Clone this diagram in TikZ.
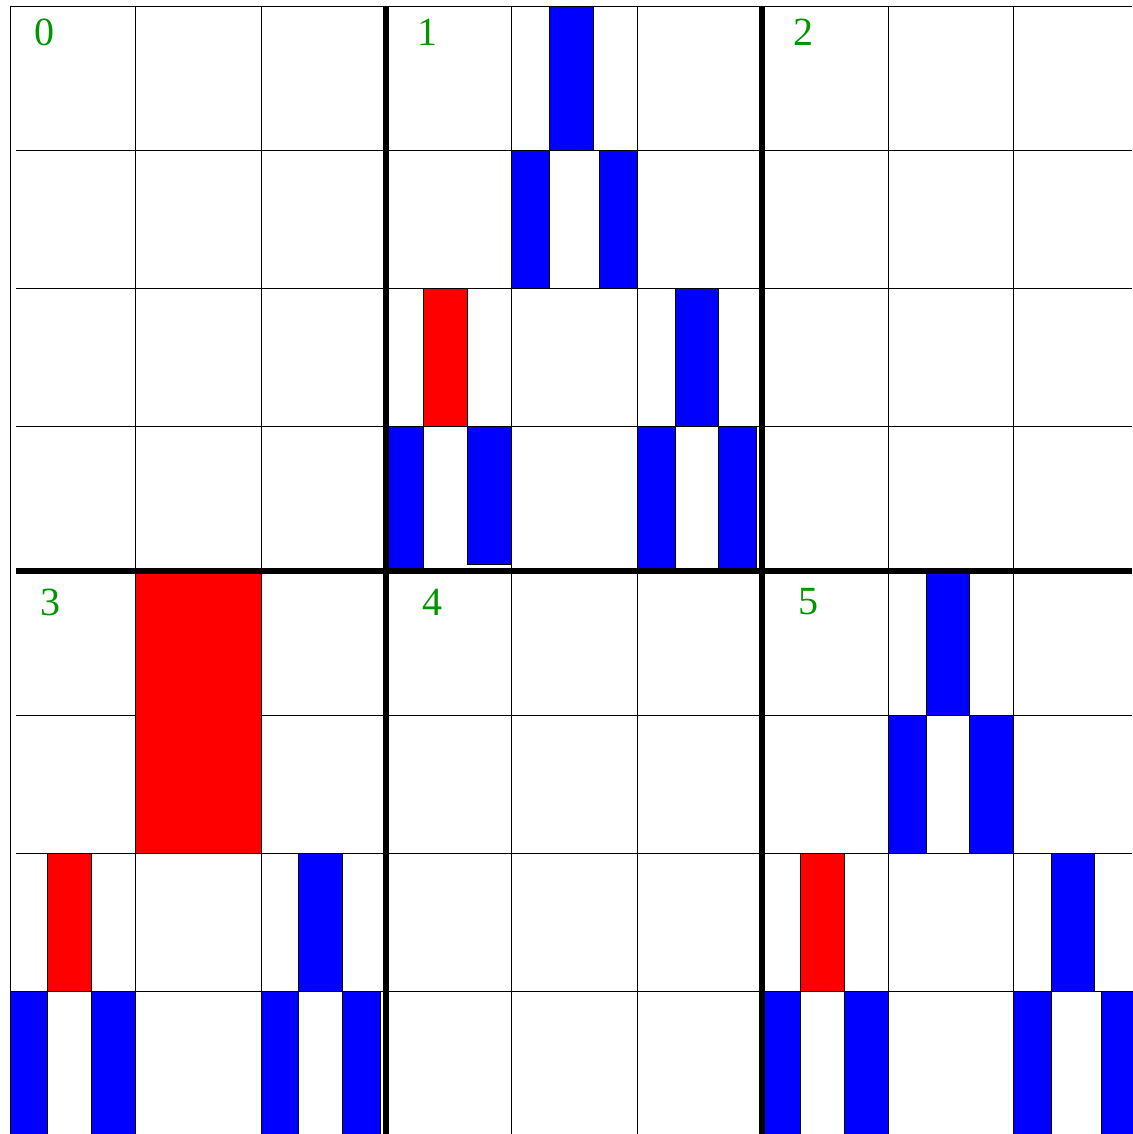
\documentclass[tikz,border=0pt]{standalone}
\usepackage{fontspec}
\setmainfont{Liberation Serif}
\definecolor{labgreen}{RGB}{0,150,0}
\begin{document}
\begin{tikzpicture}[x=1pt,y=-1pt,
  gridthin/.style={line width=0.9pt, black},
  gridthick/.style={line width=5.5pt, black},
  bluebar/.style={fill=blue, draw=black, line width=0.8pt},
  redbar/.style={fill=red, draw=black, line width=0.8pt},
  lab/.style={text=labgreen, font=\fontsize{40}{48}\selectfont, inner sep=0pt}]
\useasboundingbox (0,0) rectangle (1132,1134);
\fill[white] (0,0) rectangle (1132,1134);
% thin grid
\foreach \x in {10,135,261,511,637,888,1013} \draw[gridthin] (\x,6) -- (\x,1134);
\draw[gridthin] (10,6) -- (1132,6);
\foreach \y in {150,288,426,715,853,991} \draw[gridthin] (16,\y) -- (1132,\y);
% cell 1 bars
\draw[bluebar] (549,6) rectangle (593,150);
\draw[bluebar] (511,150) rectangle (549,288);
\draw[bluebar] (599,150) rectangle (637,288);
\draw[redbar]  (423,288) rectangle (467,426);
\draw[bluebar] (675,288) rectangle (718,426);
\draw[bluebar] (386,426) rectangle (423,571);
\draw[bluebar] (467,426) rectangle (511,564);
\draw[bluebar] (637,426) rectangle (675,571);
\draw[bluebar] (718,426) rectangle (756,571);
% cell 3 bars
\draw[redbar]  (135,571) rectangle (261,853);
\draw[redbar]  (47,853) rectangle (91,991);
\draw[bluebar] (10,991) rectangle (47,1140);
\draw[bluebar] (91,991) rectangle (135,1140);
\draw[bluebar] (298,853) rectangle (342,991);
\draw[bluebar] (261,991) rectangle (298,1140);
\draw[bluebar] (342,991) rectangle (380,1140);
% cell 5 bars
\draw[bluebar] (926,571) rectangle (969,715);
\draw[bluebar] (888,715) rectangle (926,853);
\draw[bluebar] (969,715) rectangle (1013,853);
\draw[redbar]  (800,853) rectangle (844,991);
\draw[bluebar] (762,991) rectangle (800,1140);
\draw[bluebar] (844,991) rectangle (888,1140);
\draw[bluebar] (1051,853) rectangle (1094,991);
\draw[bluebar] (1013,991) rectangle (1051,1140);
\draw[bluebar] (1101,991) rectangle (1140,1140);
% thick grid
\draw[gridthick] (386,6) -- (386,1134);
\draw[gridthick] (762,6) -- (762,1134);
\draw[gridthick] (16,571) -- (1132,571);
% labels
\node[lab] (l0) at (44,32) {0};
\node[lab] (l1) at (427,32) {1};
\node[lab] (l2) at (803,32) {2};
\node[lab] (l3) at (50,602) {3};
\node[lab] (l4) at (432,602) {4};
\node[lab] (l5) at (808,602) {5};
\end{tikzpicture}
\end{document}
